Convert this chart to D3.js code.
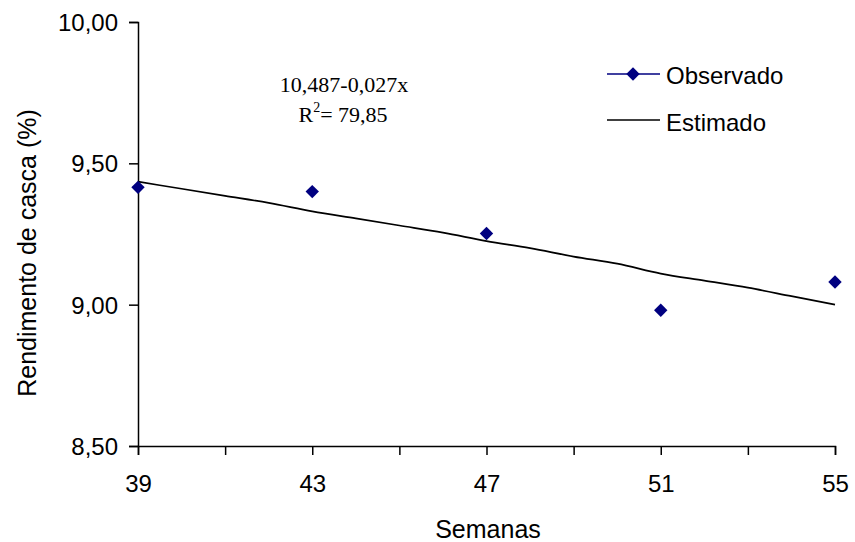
<!DOCTYPE html>
<html><head><meta charset="utf-8">
<script src="https://cdn.jsdelivr.net/npm/d3@7"></script>
<style>body{margin:0;background:#fff}svg{display:block}</style>
</head><body>
<script>
const weeks = [39, 43, 47, 51, 55];
const observado = [9.415, 9.40, 9.252, 8.98, 9.08];
const estWeeks = [39,40,41,42,43,44,45,46,47,48,49,50,51,52,53,54,55];
const estimado = [9.435,9.41,9.385,9.36,9.33,9.305,9.28,9.255,9.225,9.20,9.17,9.145,9.11,9.085,9.06,9.03,9.00];
const yTicks = [8.5, 9.0, 9.5, 10.0];
const xTickMarks = [39,41,43,45,47,49,51,53,55];
const xTickLabels = [39,43,47,51,55];

const W = 855, H = 542;
const svg = d3.select("body").append("svg").attr("width", W).attr("height", H);
const x = d3.scaleLinear().domain([39,55]).range([138,835]);
const y = d3.scaleLinear().domain([8.5,10]).range([446,22]);
const font = "Liberation Sans, Arial, sans-serif";
const fmt = d => d.toFixed(2).replace(".", ",");

// y axis
const ya = svg.append("g").attr("transform","translate(138,0)")
  .call(d3.axisLeft(y).tickValues(yTicks).tickFormat(fmt).tickSizeOuter(0).tickSize(9).tickPadding(11));
ya.select(".domain").attr("stroke","#000").attr("stroke-width",1.5);
ya.selectAll(".tick line").attr("stroke","#000").attr("stroke-width",1.5);
ya.selectAll(".tick text").attr("font-family",font).attr("font-size",24).attr("fill","#000").attr("dy","0.36em");

// x axis
const xa = svg.append("g").attr("transform","translate(0,446)")
  .call(d3.axisBottom(x).tickValues(xTickMarks).tickFormat(d => xTickLabels.includes(d) ? d : "").tickSizeOuter(0).tickSize(9).tickPadding(20));
xa.select(".domain").attr("stroke","#000").attr("stroke-width",1.5);
xa.selectAll(".tick line").attr("stroke","#000").attr("stroke-width",1.5);
xa.selectAll(".tick text").attr("font-family",font).attr("font-size",24).attr("fill","#000");

// axis titles
svg.append("text").attr("x",488).attr("y",538).attr("text-anchor","middle")
  .attr("font-family",font).attr("font-size",25).text("Semanas");
svg.append("text").attr("transform","translate(36,253) rotate(-90)").attr("text-anchor","middle")
  .attr("font-family",font).attr("font-size",25).text("Rendimento de casca (%)");

// estimated line
const line = d3.line().x((d,i)=>x(estWeeks[i])).y(d=>y(d)).curve(d3.curveMonotoneX);
svg.append("path").datum(estimado).attr("d",line).attr("fill","none").attr("stroke","#000").attr("stroke-width",1.7);

// observed markers
const sq = d3.symbol().type(d3.symbolSquare).size(90)();
svg.selectAll(".obs").data(observado).enter().append("path")
  .attr("d", sq)
  .attr("transform",(d,i)=>`translate(${x(weeks[i])},${y(d)}) rotate(45)`)
  .attr("fill","#000080");

// equation text
const serif = "Liberation Serif, Times New Roman, serif";
svg.append("text").attr("x",344).attr("y",92).attr("text-anchor","middle")
  .attr("font-family",serif).attr("font-size",22).text("10,487-0,027x");
const t2 = svg.append("text").attr("x",343).attr("y",122).attr("text-anchor","middle")
  .attr("font-family",serif).attr("font-size",22);
t2.append("tspan").text("R");
t2.append("tspan").attr("dy",-10).attr("font-size",14).text("2");
t2.append("tspan").attr("dy",10).text("= 79,85");

// legend
const lg = svg.append("g");
lg.append("line").attr("x1",607).attr("x2",660).attr("y1",74).attr("y2",74).attr("stroke","#000080").attr("stroke-width",1.5);
lg.append("path").attr("d", sq).attr("transform","translate(633,74) rotate(45)").attr("fill","#000080");
lg.append("text").attr("x",666).attr("y",84).attr("font-family",font).attr("font-size",24).text("Observado");
lg.append("line").attr("x1",607).attr("x2",660).attr("y1",120).attr("y2",120).attr("stroke","#000").attr("stroke-width",1.5);
lg.append("text").attr("x",666).attr("y",131).attr("font-family",font).attr("font-size",24).text("Estimado");
</script>
</body></html>
